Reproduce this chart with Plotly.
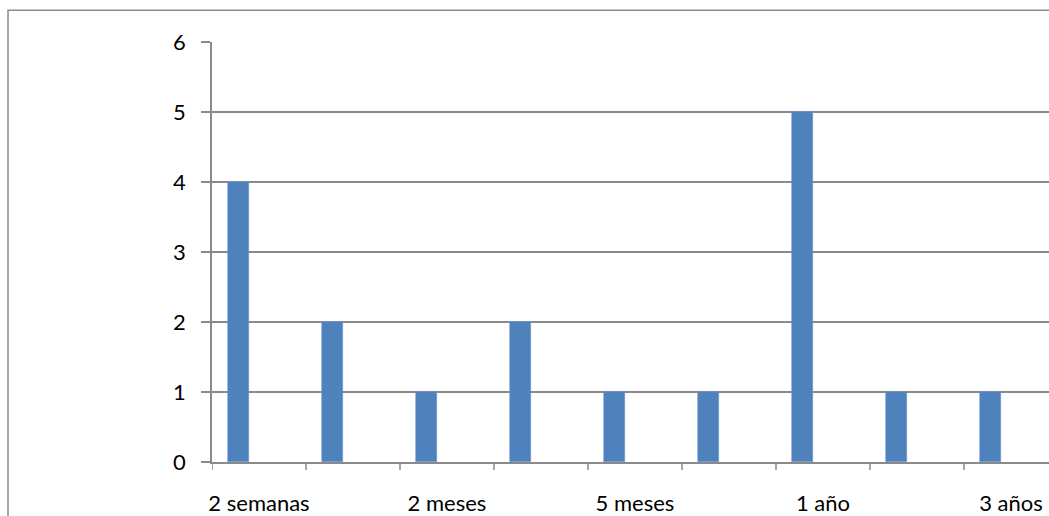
import plotly.graph_objects as go

# Time periods (every other one is labelled on the axis)
categories = ["2 semanas", "1 mes", "2 meses", "3 meses", "5 meses",
              "6 meses", "1 año", "2 años", "3 años"]
counts = [4, 2, 1, 2, 1, 1, 5, 1, 1]
tick_labels = [c if i % 2 == 0 else "" for i, c in enumerate(categories)]
y_ticks = [0, 1, 2, 3, 4, 5, 6]

W, H = 1049, 516
ML, MR, MT, MB = 212, 0, 42, 52
plot_w = W - ML - MR
plot_h = H - MT - MB
cat_px = 94.0
x_span = plot_w / cat_px

grid = "#8a8a8a"
font = dict(family="Lato, Calibri, Carlito, sans-serif", size=22, color="#000000")

fig = go.Figure(go.Bar(
    x=list(range(len(categories))),
    y=counts,
    width=21 / cat_px,
    offset=-31.5 / cat_px,
    marker=dict(color="#4F81BD", line=dict(color="#6F97CC", width=0.6)),
    hoverinfo="x+y",
))

# outer chart frame, partly cut off at the right and bottom edges
fig.add_shape(
    type="rect", xref="paper", yref="paper",
    x0=(8 - ML) / plot_w, x1=1.05,
    y0=-0.3, y1=(plot_h + MT - 10) / plot_h,
    line=dict(color="#8c8c8c", width=1.5), fillcolor="rgba(0,0,0,0)",
    layer="below",
)

fig.update_layout(
    width=W, height=H,
    margin=dict(l=ML, r=MR, t=MT, b=MB, pad=0),
    paper_bgcolor="white", plot_bgcolor="white",
    showlegend=False, bargap=0,
    font=font,
    xaxis=dict(
        range=[-0.5, -0.5 + x_span],
        tickmode="array",
        tickvals=[i - 0.5 for i in range(len(categories))] + [i for i in range(0, len(categories), 2)],
        ticktext=[""] * len(categories) + [tick_labels[i] for i in range(0, len(categories), 2)],
        ticks="", showgrid=False, zeroline=False,
        showline=True, linecolor=grid, linewidth=1.5,
        tickfont=font, ticklabelstandoff=21,
    ),
    yaxis=dict(
        range=[0, 6], tickmode="array", tickvals=y_ticks,
        ticktext=[str(v) for v in y_ticks],
        ticks="outside", ticklen=9, tickcolor=grid, tickwidth=1.5,
        showgrid=True, gridcolor=grid, gridwidth=1.5,
        zeroline=False, showline=True, linecolor=grid, linewidth=1.5,
        tickfont=font, ticklabelstandoff=11,
    ),
)

# boundary tick marks under the category axis
for i in range(len(categories)):
    fig.add_shape(type="line", xref="x", yref="paper",
                  x0=i - 0.5, x1=i - 0.5, y0=0, y1=-8 / plot_h,
                  line=dict(color=grid, width=1.5))

fig.write_html("out.html")
